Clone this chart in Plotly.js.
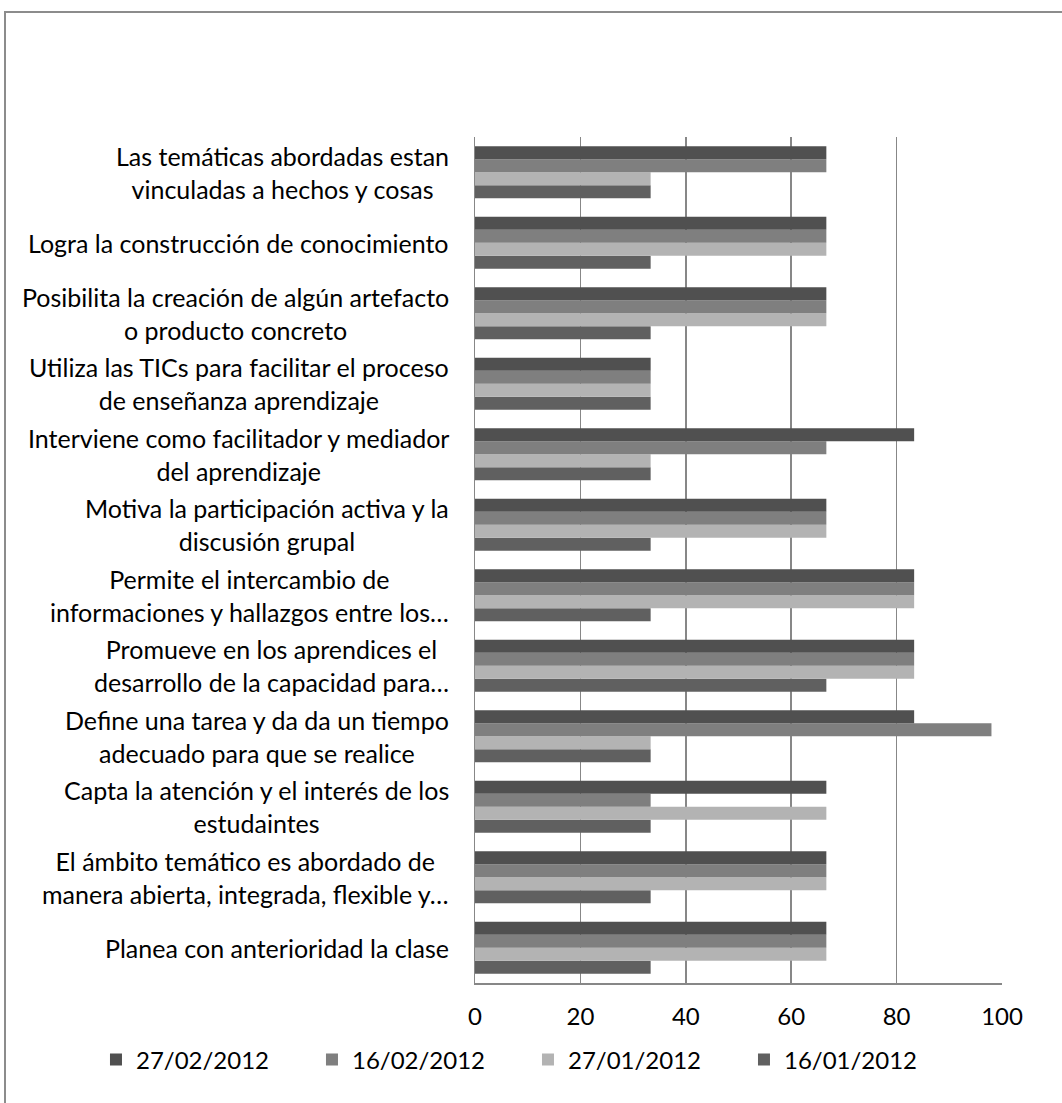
<!DOCTYPE html>
<html>
<head>
<meta charset="utf-8">
<script src="https://cdn.plot.ly/plotly-3.0.1.min.js"></script>
<style>
  html, body { margin: 0; padding: 0; background: #fff; }
  #wrap { position: relative; width: 1062px; height: 1103px; overflow: hidden; }
  #chart { position: absolute; left: 0; top: 0; width: 1062px; height: 1103px; }
  #frame { position: absolute; left: 4px; top: 11px; width: 1200px; height: 1200px;
           border-left: 2px solid #8c8c8c; border-top: 2px solid #8c8c8c; pointer-events: none; }
</style>
</head>
<body>
<div id="wrap">
  <div id="chart"></div>
  <div id="frame"></div>
</div>
<script>
// Criteria, listed from the bottom of the chart to the top
const categories = [
  "Planea con anterioridad la clase",
  "El ámbito temático es abordado de<br>manera abierta, integrada, flexible y…",
  "Capta la atención y el interés de los<br>estudaintes",
  "Define una tarea y da da un tiempo<br>adecuado para que se realice",
  "Promueve en los aprendices el<br>desarrollo de la capacidad para…",
  "Permite el intercambio de<br>informaciones y hallazgos entre los…",
  "Motiva la participación activa y la<br>discusión grupal",
  "Interviene como facilitador y mediador<br>del aprendizaje",
  "Utiliza las TICs para facilitar el proceso<br>de enseñanza aprendizaje",
  "Posibilita la creación de algún artefacto<br>o producto concreto",
  "Logra la construcción de conocimiento",
  "Las temáticas abordadas estan<br>vinculadas a hechos y cosas"
];

// Observation dates (series names)
const seriesNames = ["16/01/2012", "27/01/2012", "16/02/2012", "27/02/2012"];

// Percentages per observation, same order as categories
const s160112 = [33.33, 33.33, 33.33, 33.33, 66.67, 33.33, 33.33, 33.33, 33.33, 33.33, 33.33, 33.33];
const s270112 = [66.67, 66.67, 66.67, 33.33, 83.33, 83.33, 66.67, 33.33, 33.33, 66.67, 66.67, 33.33];
const s160212 = [66.67, 66.67, 33.33, 98.00, 83.33, 83.33, 66.67, 66.67, 33.33, 66.67, 66.67, 66.67];
const s270212 = [66.67, 66.67, 66.67, 83.33, 83.33, 83.33, 66.67, 83.33, 33.33, 66.67, 66.67, 66.67];

const xTicks = [0, 20, 40, 60, 80, 100];

const seriesValues = [s160112, s270112, s160212, s270212];
const seriesColors = ["#606060", "#b3b3b3", "#7f7f7f", "#505050"];

const FONT = "Lato, 'Open Sans', 'DejaVu Sans', sans-serif";

const traces = seriesNames.map((name, i) => ({
  type: "bar",
  orientation: "h",
  name: name,
  y: categories,
  x: seriesValues[i],
  marker: { color: seriesColors[i], line: { width: 0 } },
  hoverinfo: "x+name"
}));

// Category labels as centred multi-line text to the left of the plot
const labelAnnotations = categories.map(c => ({
  xref: "paper", yref: "y",
  x: 0, y: c,
  xanchor: "right", yanchor: "middle",
  xshift: -24,
  text: c,
  align: "center",
  showarrow: false,
  font: { family: FONT, size: 25, color: "#000" }
}));

const layout = {
  width: 1062,
  height: 1103,
  margin: { l: 475, r: 60, t: 137, b: 120 },
  paper_bgcolor: "rgba(0,0,0,0)",
  plot_bgcolor: "#fff",
  barmode: "group",
  bargap: 0.262,
  bargroupgap: 0,
  font: { family: FONT, size: 24, color: "#000" },
  xaxis: {
    range: [0, 100],
    tickvals: xTicks,
    ticktext: xTicks.map(String),
    showgrid: true,
    gridcolor: "#878787",
    gridwidth: 1.5,
    showline: true,
    linecolor: "#878787",
    linewidth: 1.5,
    zeroline: false,
    ticks: "",
    ticklabelstandoff: 12,
    tickfont: { family: FONT, size: 24, color: "#000" },
    fixedrange: true
  },
  yaxis: {
    type: "category",
    categoryorder: "array",
    categoryarray: categories,
    showticklabels: false,
    showgrid: false,
    showline: true,
    linecolor: "#878787",
    linewidth: 1.5,
    zeroline: false,
    ticks: "",
    fixedrange: true
  },
  showlegend: true,
  legend: {
    orientation: "h",
    traceorder: "reversed",
    xref: "paper", yref: "paper",
    x: -0.7192, y: -0.091,
    xanchor: "left", yanchor: "middle",
    entrywidth: 171,
    entrywidthmode: "pixels",
    font: { family: FONT, size: 24, color: "#000" },
    bgcolor: "rgba(0,0,0,0)"
  },
  annotations: labelAnnotations
};

Plotly.newPlot("chart", traces, layout, { displayModeBar: false, staticPlot: true });
</script>
</body>
</html>
